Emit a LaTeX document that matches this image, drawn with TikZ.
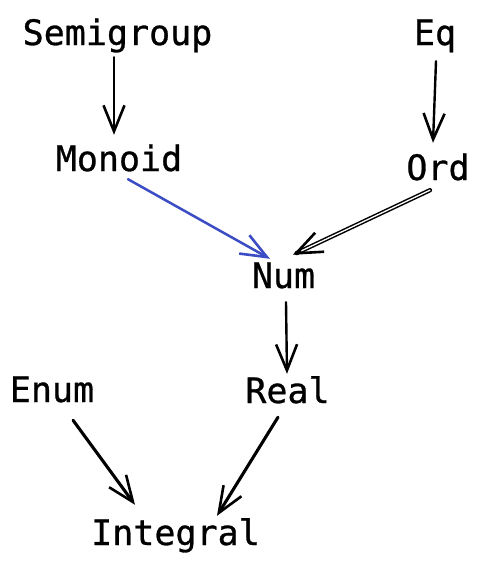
\documentclass[tikz,border=0pt]{standalone}
\usepackage{fontspec}
\newfontfamily\lblfont[FakeBold=0.8]{DejaVu Sans Mono}
\usetikzlibrary{arrows.meta,calc}
\definecolor{arrblue}{RGB}{59,76,196}
\tikzset{
  lbl/.style={anchor=base, inner sep=0pt, text height=24pt, text depth=7pt,
    font=\lblfont\fontsize{35}{40}\selectfont},
  tip/.style={-{Straight Barb[length=26pt,width=21pt,line width=2.6pt]}},
  arr/.style={draw=black, line width=3.1pt, line cap=round, line join=round, tip},
  thinarr/.style={arr, line width=2.4pt},
  bluearr/.style={arr, draw=arrblue, line width=2.5pt},
  dbl/.style={draw=black, line width=1.5pt, double=white, double distance=1.3pt, line cap=round}
}
\begin{document}
\begin{tikzpicture}[x=1pt,y=-1pt]
\useasboundingbox (0,0) rectangle (480,565);
\node[lbl] (semigroup) at (117.5,45) {Semigroup};
\node[lbl] (eq) at (435,45) {Eq};
\node[lbl] (monoid) at (119,171) {Monoid};
\node[lbl] (ord) at (438,180) {Ord};
\node[lbl] (num) at (283.5,288) {Num};
\node[lbl] (enum) at (52,402) {Enum};
\node[lbl] (real) at (287.5,403) {Real};
\node[lbl] (integral) at (175.5,545) {Integral};
% arrows
\draw[thinarr] ($(semigroup.south)+(-3.5,5)$) -- ($(monoid.north)+(-5,-12)$);
\draw[thinarr] ($(eq.south)+(1,9)$) -- ($(ord.north)+(-5,-13)$);
\draw[bluearr] ($(monoid.south)+(9,1)$) -- ($(num.north)+(-13.5,-5)$);
\coordinate (ordstart) at ($(ord.south)+(-8,3)$);
\coordinate (numtip) at ($(num.north)+(9.5,-9)$);
\draw[dbl] (ordstart) -- ($(numtip)!4pt!(ordstart)$);
\draw[arr] ($(numtip)!8pt!(ordstart)$) -- (numtip);
\draw[thinarr] ($(num.south)+(2.5,7)$) -- ($(real.north)+(-0.5,-5)$);
\draw[arr] ($(enum.south)+(21,11)$) -- ($(integral.north)+(-40.5,-16)$);
\draw[arr] ($(real.south)+(-9.5,7)$) -- ($(integral.north)+(41.5,-5)$);
\end{tikzpicture}
\end{document}
